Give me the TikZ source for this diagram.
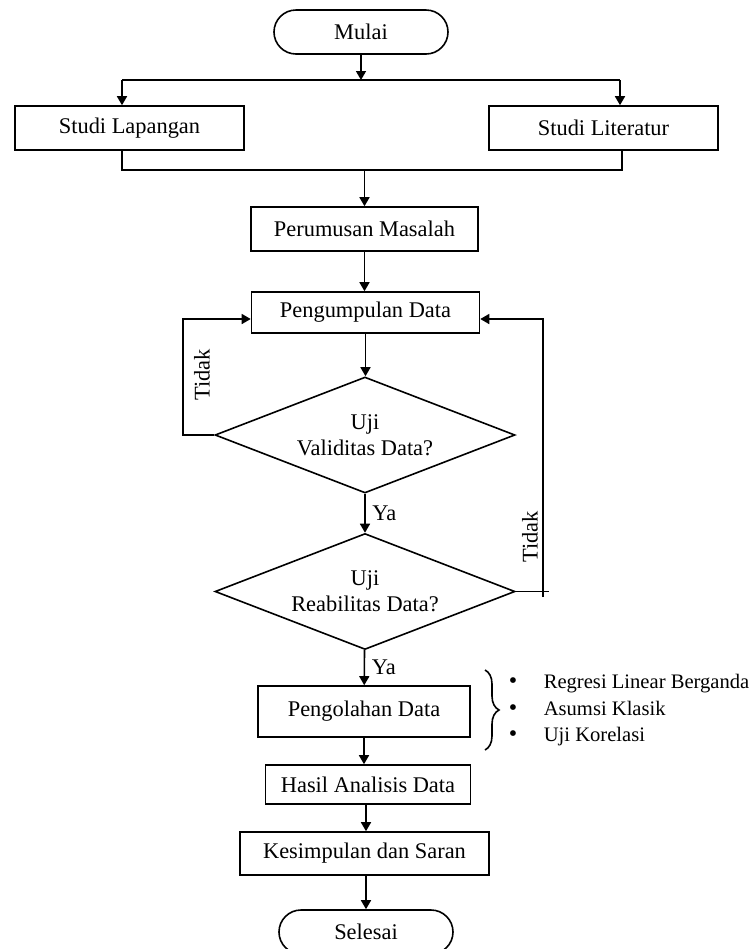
\documentclass[tikz,border=0pt]{standalone}
\usepackage{fontspec}
\setmainfont{Liberation Serif}
\usetikzlibrary{shapes.geometric, arrows.meta, decorations.pathreplacing, calc}

\begin{document}
\begin{tikzpicture}[x=0.5pt, y=-0.5pt, line width=0.8pt, >={Triangle[length=4.5pt,width=5pt]},
	every node/.style={font=\fontsize{11.2}{13}\selectfont},
	box/.style={draw, rectangle, inner sep=0pt},
	term/.style={draw, rectangle, rounded corners=11pt, minimum width=87pt, minimum height=22pt, inner sep=0pt},
	cond/.style={draw, diamond, aspect=2.6, minimum width=150pt, minimum height=58pt, inner sep=0pt, align=center}]
			\useasboundingbox (0,0) rectangle (752,949);
			\clip (0,0) rectangle (752,949);
			
			\node[term] (mulai) at (361,32) {Mulai};
			\coordinate (split) at (361,80);
			\coordinate (kiri) at (122,80);
			\coordinate (kanan) at (620,80);
			\node[box, minimum width=114.5pt, minimum height=22pt] (lapangan) at (129.5,128) {Studi Lapangan};
			\node[box, minimum width=114.5pt, minimum height=22pt] (literatur) at (603.5,128) {Studi Literatur};
			\coordinate (gabkiri) at (122,170);
			\coordinate (gabkanan) at (622,170);
			
			\node[box, minimum width=113.5pt, minimum height=22pt] (rumus) at (364.5,229) {Perumusan Masalah};
			\node[box, minimum width=114pt, minimum height=20.5pt] (kumpul) at (365.5,312.5) {Pengumpulan Data};
			\node[cond] (validitas) at (365,435) {Uji\\Validitas Data?};
			\node[cond] (reabilitas) at (365,591.5) {Uji\\Reabilitas Data?};
			\node[box, minimum width=106pt, minimum height=25.5pt] (olah) at (364,711.5) {Pengolahan Data};
			\node[box, minimum width=102.5pt, minimum height=19.5pt] (hasil) at (368,784.5) {Hasil Analisis Data};
			\node[box, minimum width=124.5pt, minimum height=21.5pt] (simpul) at (364.5,853.5) {Kesimpulan dan Saran};
			\node[term] (selesai) at (366,932) {Selesai};
			
			\draw[->] (mulai) -- (split);
			\draw (kiri) -- (kanan);
			\draw[->] (kiri) -- (kiri |- lapangan.north);
			\draw[->] (kanan) -- (kanan |- literatur.north);
			\draw (gabkiri |- lapangan.south) -- (gabkiri) -- (gabkanan) -- (gabkanan |- literatur.south);
			\draw[->] (rumus |- gabkiri) -- (rumus);
			\draw[->] (rumus) -- (rumus |- kumpul.north);
			\draw[->] (kumpul) -- (kumpul |- validitas.north);
			\draw[->] (validitas) -- node[right] (ya1) {Ya} (reabilitas);
			\draw[->] (reabilitas) -- node[right] (ya2) {Ya} (olah);
			\draw[->] (olah) -- (olah |- hasil.north);
			\draw[->] (hasil.south -| selesai) -- (simpul.north -| selesai);
			\draw[->] (simpul.south -| selesai) -- (selesai);
			
			\coordinate (balikkiri) at (183,319);
			\draw[->] (validitas.west) -| (balikkiri) -- (balikkiri -| kumpul.west);
			\node[rotate=90] (tidak1) at (202,375) {Tidak};
			
			\coordinate (balikkanan) at (543,319);
			\draw[->] (reabilitas.east) -| (balikkanan) -- (balikkanan -| kumpul.east);
			\draw (reabilitas.east) -- ++(33,0);
			\draw ($(balikkanan |- reabilitas.east)+(0,5)$) -- (balikkanan |- reabilitas.east);
			\node[rotate=90] (tidak2) at (530,537) {Tidak};
			
			\draw[decorate, decoration={brace, amplitude=7pt}] (485,670) -- (485,750);
			\node[anchor=west, inner sep=0pt, font=\fontsize{10.3}{13.25}\selectfont] (metode) at (508,710)
				{\begin{tabular}{@{}p{17.5pt}@{}l@{}}
					{\large\textbullet} & Regresi Linear Berganda\\
					{\large\textbullet} & Asumsi Klasik\\
					{\large\textbullet} & Uji Korelasi
				\end{tabular}};
\end{tikzpicture}
\end{document}
